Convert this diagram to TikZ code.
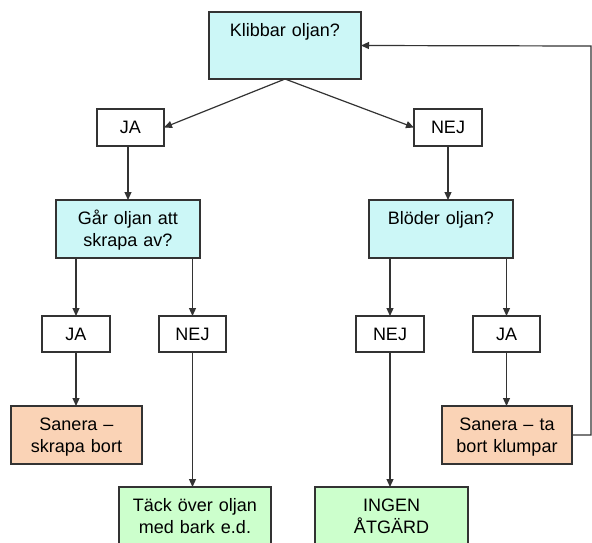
\documentclass[tikz,border=0pt]{standalone}
\usepackage{fontspec}
\setmainfont{Liberation Sans}
\usetikzlibrary{arrows.meta}
\definecolor{askcyan}{HTML}{CCF7F7}
\definecolor{doorange}{HTML}{FAD3B6}
\definecolor{endgreen}{HTML}{CCFFCC}
\definecolor{edgegray}{HTML}{333333}
\begin{document}
\begin{tikzpicture}
[x=1pt, y=-1pt,
 box/.style={draw=edgegray, line width=1.3pt, fill=white, inner sep=0pt, outer sep=0pt, anchor=north west, align=center, text height=24pt, font=\fontsize{18}{22}\selectfont},
 arr/.style={draw=edgegray, line width=1.2pt, -{Triangle[length=8pt, width=7pt]}}]
\clip (0,0) rectangle (592,542);
\node [box, fill=askcyan, text width=152pt, text depth=43pt] (klib) at (209,12) {Klibbar oljan?};
\node [box, text width=67pt, text depth=13pt] (ja1) at (97,109) {JA};
\node [box, text width=68pt, text depth=13pt] (nej1) at (414,109) {NEJ};
\node [box, fill=askcyan, text width=144pt, text depth=34pt] (gar) at (56,200) {Går oljan att\\skrapa av?};
\node [box, fill=askcyan, text width=144pt, text depth=34pt] (blod) at (369,200) {Blöder oljan?};
\node [box, text width=68pt, text depth=12pt] (ja2) at (42,316) {JA};
\node [box, text width=67pt, text depth=12pt] (nej2) at (159,316) {NEJ};
\node [box, text width=68pt, text depth=12pt] (nej3) at (356,316) {NEJ};
\node [box, text width=67pt, text depth=12pt] (ja3) at (473,316) {JA};
\node [box, fill=doorange, text width=131pt, text depth=34pt] (sanS) at (11,406) {Sanera –\\skrapa bort};
\node [box, fill=doorange, text width=130pt, text depth=34pt] (sanT) at (442,406) {Sanera – ta\\bort klumpar};
\node [box, fill=endgreen, text width=152pt, text depth=40pt] (tack) at (119,487) {Täck över oljan\\med bark e.d.};
\node [box, fill=endgreen, text width=153pt, text depth=40pt] (ingen) at (315,487) {INGEN\\ÅTGÄRD};
\coordinate (fb) at (591,46);
\draw [arr] (klib.south) -- (ja1.east);
\draw [arr] (klib.south) -- (nej1.west);
\draw [arr] (ja1.south -| gar) -- (gar);
\draw [arr] (nej1) -- (nej1 |- blod.north);
\draw [arr] (gar.south -| ja2) -- (ja2);
\draw [arr] (gar.south -| nej2) -- (nej2);
\draw [arr] (blod.south -| nej3) -- (nej3);
\draw [arr] (blod.south -| ja3) -- (ja3);
\draw [arr] (ja2) -- (ja2 |- sanS.north);
\draw [arr] (nej2) -- (nej2 |- tack.north);
\draw [arr] (nej3) -- (nej3 |- ingen.north);
\draw [arr] (ja3) -- (ja3 |- sanT.north);
\draw [arr] (sanT.east) -| (fb) -- (klib.east);
\end{tikzpicture}
\end{document}
